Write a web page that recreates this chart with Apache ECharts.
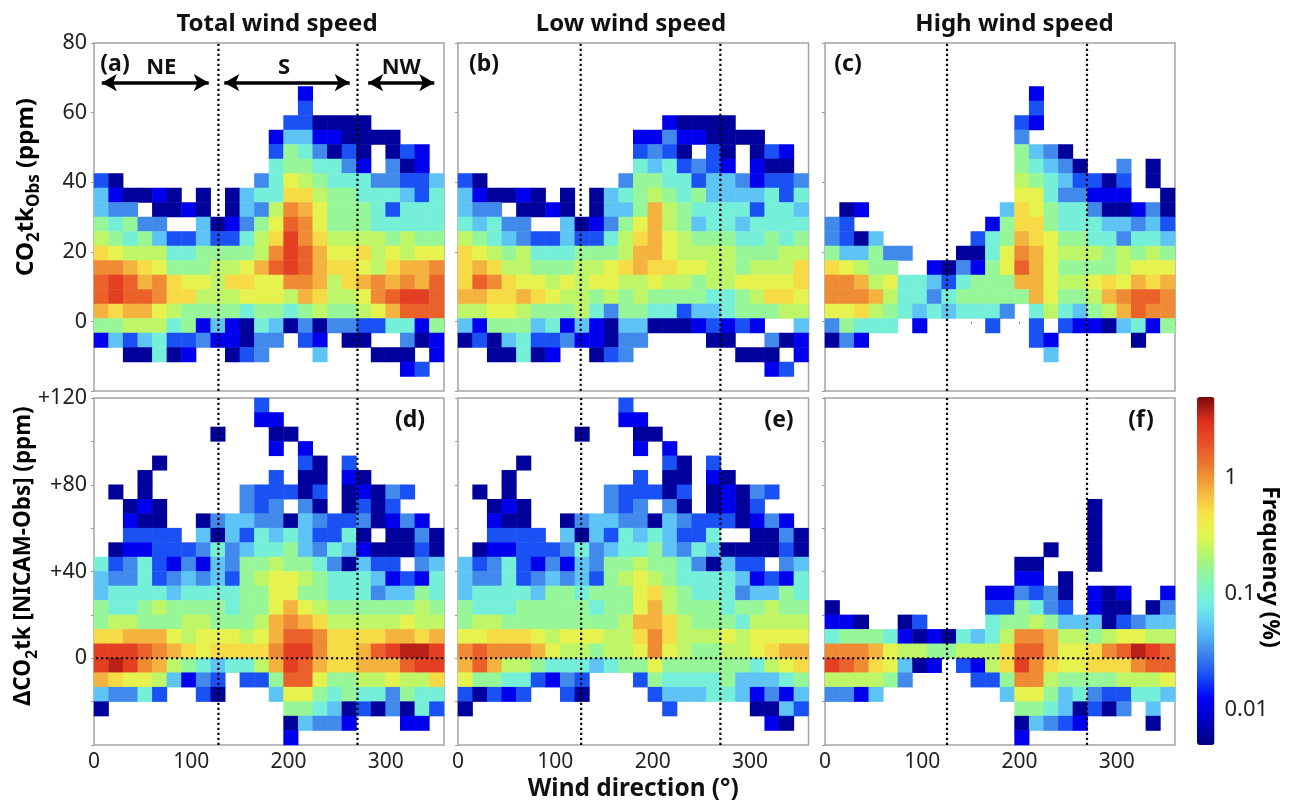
<!DOCTYPE html>
<html><head><meta charset="utf-8">
<style>html,body{margin:0;padding:0;background:#fff}#c{width:1295px;height:808px}</style>
<script src="https://cdn.jsdelivr.net/npm/echarts@6/dist/echarts.min.js"></script>
</head><body><div id="c"></div>
<script>
// Frequency (%) read from the colour of each cell; one letter per 15 degree bin, '.' = no data.
const levelCodes = "abcdefghijklmno";
const levelFreq = [0.0061,0.0115,0.02,0.032,0.052,0.09,0.158,0.24,0.36,0.54,0.77,1.1,1.67,2.5,3.7];
const E = "........................";
const panelA = [E,E,E,
"..............b.........","..............c.........",".............ccaaaa.....",
"............beebbaaaa...","............cgfdaca.acb.","............fggffdb.dab.",
"ca.........dfihgfffddcce","ebaaba.a.aeffjjhggfffecf","edd.aaba.aedhlkigggfcfff",
"gfgdd..eabdgimligggfffff","hgfgecceccfhjnljhhhhghgg","jihhhffgggghlnmkiijhihii",
"llkjiggghhikmnmkjjihjkkl","mnmkljiihjjiillkhjklklkm","mnmmljjhhhiiihkjhhilmnnm",
"kjkkihggggfggfghgghikmmm","gghhhfgbebafeadaddccffbg","becefccdbbadd.cb.aa..dab",
"..aafab..acd...e...aaa.b",".....................bc.",E];
const panelB = [E,E,E,E,E,
"..............baaaa.....","............bbdbbaaaa...","............cdca.ca.acb.",
"............fefcdcb.baa.","ca.........dggffceedbccd","ebaaba.a.aefghgfgeeeefcf",
"edd.aaba.aeegkhgffffcffe","fefdd..eabdgikhgeffeffff","hgfedcceccfhjkihgggffgfg",
"jihghfffggghkkihhhhggghh","jkjhhggghhijkjjiihhghhhj","jmljiihihiihhihhghhiiiij",
"kkjjkjihhghghggggffghjji","hhiihggghfdggffceefggghh","ebgggefbebaeeaaabcbcb..e",
"acaefccdbbadd....aa..dab","..aafab..acd.......aaa.b",".....................bc.",E];
const panelC = [E,E,E,
"..............b.........","..............c.........",".............cb.........",
".............d..........",".............geda.......",".............gfeda..d.a.",
".............hgfeccac.a.",".............iifddbbb..a",".ab.........ejigffdaabda",
"dc.........bgjjgfffeedec","dcae......cfgkjiggffdffe","geegdd...aafilkihhhghghg",
"jihgg..badbgimkigggghiii","llkhiffecfgggkkihhijikjk","lllkhffdfgggggkigghklmml",
"iijhgfefefffd.fhfeghkmll","dgfff.b....c..c.cbbaefbg","adb...........cb.....a..",
"...............e........",E,E];
const panelD = [
"...........c............","...........bb...........","........a...aa..........",
"............b.b.........","....a.........ca.c......","...a........c.aa.ba.....",
".a.a......dcccac.abadc..","..aba.....dcd.da.acac...","..baa..adeeddaedccdabdb.",
"..cccc.eaecfefeccfa.aada",".abbcccdfdeffgedfebaaaca","fcdfcbdbedgghggfdaecc.de",
"eddfcdedecghiihgfffebcbf","effffeffffggiiggfffdeegf","gffghggggfggikihgggggghg",
"ghhggghhggghklkjhhhhhihh","jjkkkihiiihikmmljjjjkkjk","nnnmlkjijjjjlnnljjkmnoon",
"nonlkhgfeffhknmkjjkkkmnn","kjiihebdc.ccgmmigghhihhj","eddfc..ca...eiigfgffdgff",
"a............ggfeacadafc",".............aeddb...bb.",".............b.........."];
const panelE = [
"...........c............","...........bb...........","........a...aa..........",
"............b.b.........","....a.........ca.c......","...a........c.aa.ba.....",
".a.a......dcccac.abadc..","..aba.....dcd.da.abac...","..baa..adeeddaedcccabdb.",
"..cccc.eaecfefeccf..aada",".abbcccdfdeffgedfeaaaaca","ecdfcbdbedgghggfdaecc.de",
"eddfcdedecghihgffffebcbf","effffeggfgggijhgfffdeegf","gfffgggggfggikhgggfgghgg",
"ghhgggggggghkkjhgggfhhhh","iijjjihiiihhjljhhhihiiii","lmlllkihhghhilihgghhijkk",
"kmkhhgfffefggiggggggfhij","iggffcbdc...cgffffgeeefg","cacbc..ca....ceeeffebdbe",
"a.............c.....aaec",".....................ba.",E];
const panelF = [E,E,E,E,E,E,E,
"..................a.....","..................a.....","..................a.....",
"...............a..a.....",".............aa...a.....",".............bb.a.......",
"...........bbdcda.bab..b","a..........ccgfdc.baa.ad","bba..ac....fgghgeeeacdee",
"fgggfbabafefhllkhhghiihh","lllkihhgghhhjmmkiijlmonm","nmljieab.cbhjnljiijjjlmm",
"hhhhgd....ccgllhgggghhhi","ddbe........eiigefdccffe",".............ggfeacad.e.",
".............aedcb....a.",".............b.........."];

const panelRows = [panelA,panelB,panelC,panelD,panelE,panelF];
const panelTags = ["(a)","(b)","(c)","(d)","(e)","(f)"];
const columnTitles = ["Total wind speed","Low wind speed","High wind speed"];
const boundaries = [[128,271],[126,269.5],[125.5,269.5],[128,271],[126.5,269.5],[125.5,269.5]];
const topRange = [-20,80], bottomRange = [-40,120];
const topLabels = [0,20,40,60,80], bottomLabels = [0,40,80,120];
const xLabels = [0,100,200,300];
const sectors = [["NE",8,118],["S",134,263],["NW",282,350]];
const sectorLabelShift = [6,-3,0];
const sectorLevel = 68.6;
const cbLabels = [0.01,0.1,1];
const cbTicks = [0.006,0.007,0.008,0.009,0.01,0.02,0.03,0.04,0.05,0.06,0.07,0.08,0.09,0.1,0.2,0.3,0.4,0.5,0.6,0.7,0.8,0.9,1,2,3,4];
const cbRange = [0.005,5];
const cbColors = ["#00007f","#0000c0","#0000fa","#1a50f5","#4088ec","#5cc0f8","#70ece6","#84f6b8","#a8f578","#dff850","#f8e448","#f4b03e","#ec7c30","#ea5026","#dc2e1e","#7a0a0a"];

const FONT = "Noto Sans", TEXT = "#222", FRAME = "#a4a4a4";
const lefts = [94,458,825], widths = [350,350.5,350], tops = [43,398], heights = [348,347];
const bins = Array.from({length:24},(_, i)=>i);

const grid=[],xAxis=[],yAxis=[],series=[],title=[];
panelRows.forEach((rows,p)=>{
  const col=p%3,row=Math.floor(p/3);
  const range=row?bottomRange:topRange;
  grid.push({left:lefts[col],top:tops[row],width:widths[col],height:heights[row],show:true,borderColor:FRAME,borderWidth:1.5,backgroundColor:"#fff"});
  xAxis.push({gridIndex:p,type:"value",min:0,max:360,interval:50,position:"bottom",splitLine:{show:false},
    axisLine:{show:false},axisTick:{show:true,length:3,lineStyle:{color:"#999",width:1}},
    axisLabel:{show:row===1,customValues:xLabels,fontFamily:FONT,fontSize:21,color:TEXT,margin:7},
    ...(p===4?{name:"Wind direction (°)",nameLocation:"middle",nameGap:32,nameTextStyle:{fontFamily:FONT,fontWeight:"bold",fontSize:24.4,color:"#111"}}:{})});
  xAxis.push({gridIndex:p,type:"category",data:bins,show:false});
  yAxis.push({gridIndex:p,type:"value",min:range[0],max:range[1],interval:20,position:"left",splitLine:{show:false},
    axisLine:{show:false},axisTick:{show:true,length:3,lineStyle:{color:"#999",width:1}},
    axisLabel:{show:col===0,customValues:row?bottomLabels:topLabels,fontFamily:FONT,fontSize:21.5,color:TEXT,margin:7,
      formatter:v=>row&&v>0?"+"+v:String(v)}});
  yAxis.push({gridIndex:p,type:"category",data:bins,show:false});
  const data=[];
  rows.forEach((s,r)=>{for(let c=0;c<24;c++){const k=levelCodes.indexOf(s[c]);
    if(k>=0)data.push([c,23-r,Math.log10(levelFreq[k])]);}});
  series.push({type:"heatmap",xAxisIndex:2*p+1,yAxisIndex:2*p+1,data,silent:true,z:2});
  boundaries[p].forEach(b=>series.push({type:"line",xAxisIndex:2*p,yAxisIndex:2*p,showSymbol:false,silent:true,z:5,
    data:[[b,range[0]],[b,range[1]]],lineStyle:{color:"#000",width:2.2,type:[2.2,2.8]}}));
  if(row===1){const ext=col===2?[-3,357]:[2,377];
    series.push({type:"line",xAxisIndex:2*p,yAxisIndex:2*p,showSymbol:false,silent:true,clip:false,z:6,
      data:[[ext[0],0],[ext[1],0]],lineStyle:{color:"#000",width:2.2,type:[2.2,2.8]}});}
  const tagX=[[115,484,848],[410,779,1141]][row][col], tagY=row?420:64;
  title.push({text:panelTags[p],left:tagX,top:tagY,textAlign:"center",textVerticalAlign:"middle",padding:0,
    textStyle:{fontFamily:FONT,fontWeight:"bold",fontSize:23,color:"#111"}});
});
columnTitles.forEach((t,i)=>title.push({text:t,left:[277,631,1014.5][i],top:24,textAlign:"center",textVerticalAlign:"middle",padding:0,
  textStyle:{fontFamily:FONT,fontWeight:"bold",fontSize:24,color:"#111"}}));

// arrows in panel (a)
series.push({type:"line",xAxisIndex:0,yAxisIndex:0,data:[],silent:true,z:7,markLine:{silent:true,animation:false,symbol:["arrow","arrow"],symbolSize:[13,15],
  lineStyle:{color:"#000",width:3.5,type:"solid"},
  label:{show:true,position:"insideMiddleTop",distance:4,formatter:"{b}",fontFamily:FONT,fontWeight:"bold",fontSize:22,color:"#111"},
  data:sectors.map((s,i)=>[{name:s[0],coord:[s[1],sectorLevel],label:{offset:[sectorLabelShift[i],0]}},{coord:[s[2],sectorLevel]}])}});

// colour bar axis
const cbAxisMin=Math.log10(cbRange[0]),cbAxisMax=Math.log10(cbRange[1]);
grid.push({left:1197,top:397,width:17.5,height:348,show:false});
xAxis.push({gridIndex:6,type:"value",show:false,min:0,max:1});
yAxis.push({gridIndex:6,type:"value",min:cbAxisMin,max:cbAxisMax,position:"right",splitLine:{show:false},axisLine:{show:false},
  axisTick:{show:true,length:3,lineStyle:{color:"#888"},customValues:cbTicks.map(Math.log10)},
  axisLabel:{customValues:cbLabels.map(Math.log10),fontFamily:FONT,fontSize:22,color:TEXT,margin:10,
    formatter:v=>String(+Math.pow(10,v).toPrecision(1))}});

const mkRich=(bs,ss)=>({b:{fontFamily:FONT,fontWeight:"bold",fontSize:bs,color:"#111",lineHeight:bs+6},
  s:{fontFamily:FONT,fontWeight:"bold",fontSize:ss,color:"#111",verticalAlign:"bottom",lineHeight:bs+10}});
const yText=(x,y,text,rich,rot)=>({type:"text",x,y,rotation:rot,silent:true,
  style:{text,align:"center",verticalAlign:"middle",rich}});
const plain={b:{fontFamily:FONT,fontWeight:"bold",fontSize:23,color:"#111"}};

const chart=echarts.init(document.getElementById("c"),null,{renderer:"canvas"});
chart.setOption({animation:false,backgroundColor:"#fff",tooltip:{show:false},grid,xAxis,yAxis,series,title,
  visualMap:{type:"continuous",min:cbAxisMin,max:cbAxisMax,dimension:2,seriesIndex:series.map((s,i)=>s.type==="heatmap"?i:-1).filter(i=>i>=0),
    calculable:false,realtime:false,hoverLink:false,silent:true,left:1197,top:397,itemWidth:17.5,itemHeight:348,text:null,padding:0,showLabel:false,
    inRange:{color:cbColors},outOfRange:{color:"#fff"}},
  graphic:[yText(26,187,"{b|CO}{s|2}{b|tk}{s|Obs}{b| (ppm)}",mkRich(24,17),Math.PI/2),
    yText(24,556,"{b|ΔCO}{s|2}{b|tk [NICAM-Obs] (ppm)}",mkRich(22.4,16),Math.PI/2),
    yText(1270,567,"{b|Frequency (%)}",plain,-Math.PI/2)]});
</script></body></html>
